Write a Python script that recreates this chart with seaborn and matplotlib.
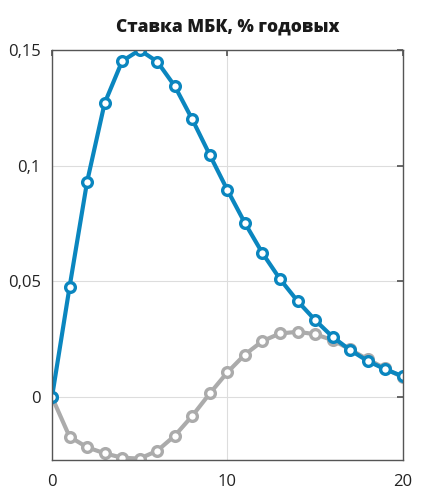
import numpy as np
import pandas as pd
import matplotlib
matplotlib.use("Agg")
import matplotlib.pyplot as plt
from matplotlib.ticker import FuncFormatter
import seaborn as sns

# данные: отклик ставки МБК по периодам
periods = list(range(21))
blue_vals = [0.0, 0.0475, 0.093, 0.127, 0.1452, 0.150, 0.145, 0.1344, 0.120, 0.1046,
             0.0895, 0.0752, 0.0622, 0.051, 0.0415, 0.0333, 0.026, 0.0203, 0.0156,
             0.012, 0.009]
gray_vals = [0.0, -0.0171, -0.0217, -0.0243, -0.0262, -0.0266, -0.0232, -0.0167,
             -0.0081, 0.0016, 0.0107, 0.0184, 0.0242, 0.0275, 0.0282, 0.0272,
             0.0246, 0.0206, 0.0163, 0.0124, 0.0085]
title = "Ставка МБК, % годовых"
y_ticks = [0, 0.05, 0.1, 0.15]
x_ticks = [0, 10, 20]

sns.set_theme(style="white")
plt.rcParams['font.family'] = ['Open Sans', 'DejaVu Sans']

df = pd.DataFrame({"x": periods + periods,
                   "y": gray_vals + blue_vals,
                   "s": ["gray"] * len(periods) + ["blue"] * len(periods)})

fig = plt.figure(figsize=(4.24, 4.91), dpi=100)
ax = fig.add_axes([0.1226, 0.0631, 0.8274, 0.835])

sns.lineplot(data=df, x="x", y="y", hue="s", palette={"gray": "#ABABAB", "blue": "#0A86BF"},
             marker="o", markersize=7, markerfacecolor="white", markeredgewidth=2.4,
             linewidth=3, legend=False, ax=ax)
# чтобы маркеры брали цвет линии
for line in ax.get_lines():
    line.set_markeredgecolor(line.get_color())

ax.set_xlim(0, 20)
ax.set_ylim(-0.0272, 0.15)
ax.set_xticks(x_ticks)
ax.set_yticks(y_ticks)
ax.yaxis.set_major_formatter(FuncFormatter(lambda v, p: ("%g" % round(v, 3)).replace(".", ",")))
ax.grid(True, color="#DDDDDD", linewidth=0.8)
ax.set_axisbelow(True)
for sp in ax.spines.values():
    sp.set_color("#555555")
    sp.set_linewidth(1)
ax.tick_params(axis="both", direction="in", length=4, color="#555555",
               labelsize=12, labelcolor="#222222", top=True, right=True, pad=8)
ax.tick_params(axis="x", pad=10)
ax.set_xlabel("")
ax.set_ylabel("")
for lbl in ax.get_yticklabels() + ax.get_xticklabels():
    lbl.set_clip_on(False)
ax.set_title(title, fontsize=12.5, fontweight="heavy", color="#1A1A1A", pad=13)

fig.savefig("out.png", dpi=100)
